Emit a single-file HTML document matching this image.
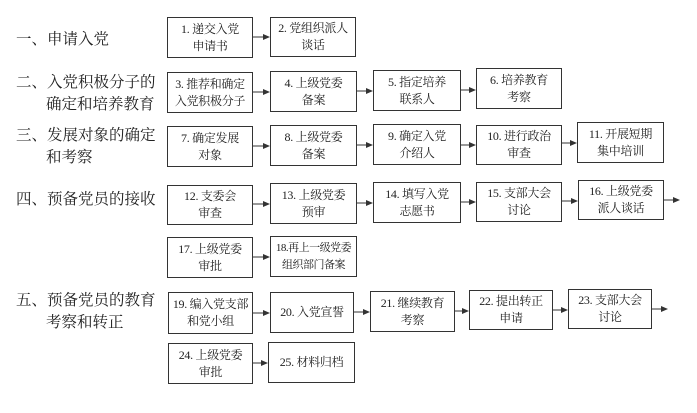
<!DOCTYPE html>
<html><head><meta charset="utf-8"><style>
body{margin:0;width:697px;height:413px;background:#fff;position:relative;overflow:hidden;font-family:"Liberation Serif","Noto Serif CJK SC","Noto Sans CJK SC",serif;color:#222}
.b{position:absolute;border:1.3px solid #333;box-sizing:border-box;font-size:12px;line-height:17px;letter-spacing:-0.3px;display:flex;flex-direction:column;justify-content:center;align-items:center;text-align:center;white-space:nowrap;background:#fff;overflow:hidden}
.l{position:absolute;font-size:15.5px;line-height:22px;white-space:nowrap}
svg{position:absolute;left:0;top:0}
</style></head><body>
<div class="l" style="left:16px;top:29px">一、申请入党</div>
<div class="l" style="left:16px;top:72px">二、入党积极分子的<br><span style="padding-left:30px">确定和培养教育</span></div>
<div class="l" style="left:16px;top:125px">三、发展对象的确定<br><span style="padding-left:30px">和考察</span></div>
<div class="l" style="left:16px;top:189px">四、预备党员的接收</div>
<div class="l" style="left:16px;top:290px">五、预备党员的教育<br><span style="padding-left:30px">考察和转正</span></div>

<div class="b" style="left:167px;top:17px;width:86px;height:41px">1. 递交入党<br>申请书</div>
<div class="b" style="left:270px;top:17px;width:86px;height:40px">2. 党组织派人<br>谈话</div>

<div class="b" style="left:167px;top:72px;width:86px;height:41px">3. 推荐和确定<br>入党积极分子</div>
<div class="b" style="left:270px;top:71px;width:87px;height:41px">4. 上级党委<br>备案</div>
<div class="b" style="left:373px;top:70px;width:88px;height:41px">5. 指定培养<br>联系人</div>
<div class="b" style="left:476px;top:68px;width:86px;height:41px">6. 培养教育<br>考察</div>

<div class="b" style="left:167px;top:126px;width:86px;height:41px">7. 确定发展<br>对象</div>
<div class="b" style="left:270px;top:125px;width:87px;height:41px">8. 上级党委<br>备案</div>
<div class="b" style="left:373px;top:124px;width:88px;height:41px">9. 确定入党<br>介绍人</div>
<div class="b" style="left:476px;top:125px;width:86px;height:40px">10. 进行政治<br>审查</div>
<div class="b" style="left:577px;top:122px;width:87px;height:41px">11. 开展短期<br>集中培训</div>

<div class="b" style="left:167px;top:185px;width:86px;height:40px">12. 支委会<br>审查</div>
<div class="b" style="left:270px;top:183px;width:87px;height:41px">13. 上级党委<br>预审</div>
<div class="b" style="left:373px;top:182px;width:88px;height:41px">14. 填写入党<br>志愿书</div>
<div class="b" style="left:476px;top:182px;width:86px;height:40px">15. 支部大会<br>讨论</div>
<div class="b" style="left:578px;top:180px;width:86px;height:40px">16. 上级党委<br>派人谈话</div>

<div class="b" style="left:167px;top:237px;width:86px;height:41px">17. 上级党委<br>审批</div>
<div class="b" style="left:270px;top:236px;width:87px;height:41px;font-size:11px;letter-spacing:-0.5px">18.再上一级党委<br>组织部门备案</div>

<div class="b" style="left:168px;top:292px;width:85px;height:42px">19. 编入党支部<br>和党小组</div>
<div class="b" style="left:270px;top:292px;width:84px;height:41px">20. 入党宣誓</div>
<div class="b" style="left:370px;top:291px;width:85px;height:41px">21. 继续教育<br>考察</div>
<div class="b" style="left:469px;top:290px;width:84px;height:40px">22. 提出转正<br>申请</div>
<div class="b" style="left:568px;top:289px;width:84px;height:40px">23. 支部大会<br>讨论</div>

<div class="b" style="left:168px;top:343px;width:85px;height:41px">24. 上级党委<br>审批</div>
<div class="b" style="left:268px;top:342px;width:87px;height:41px">25. 材料归档</div>

<svg width="697" height="413">
<defs><marker id="a" markerWidth="7" markerHeight="6" refX="6" refY="3" orient="auto" markerUnits="userSpaceOnUse"><path d="M0,0L7,3L0,6z" fill="#333"/></marker></defs>
<g stroke="#333" stroke-width="1" marker-end="url(#a)">
<line x1="253" y1="37" x2="269" y2="37"/>
<line x1="253" y1="92" x2="269" y2="92"/>
<line x1="357" y1="91" x2="372" y2="91"/>
<line x1="461" y1="90" x2="475" y2="90"/>
<line x1="253" y1="146" x2="269" y2="146"/>
<line x1="357" y1="145" x2="372" y2="145"/>
<line x1="461" y1="145" x2="475" y2="145"/>
<line x1="562" y1="143" x2="576" y2="143"/>
<line x1="253" y1="204" x2="269" y2="204"/>
<line x1="357" y1="203" x2="372" y2="203"/>
<line x1="461" y1="202" x2="475" y2="202"/>
<line x1="562" y1="201" x2="577" y2="201"/>
<line x1="664" y1="200" x2="679" y2="200"/>
<line x1="253" y1="257" x2="269" y2="257"/>
<line x1="253" y1="313" x2="269" y2="313"/>
<line x1="354" y1="312" x2="369" y2="312"/>
<line x1="455" y1="311" x2="468" y2="311"/>
<line x1="553" y1="310" x2="567" y2="310"/>
<line x1="652" y1="309" x2="667" y2="309"/>
<line x1="253" y1="363" x2="267" y2="363"/>
</g></svg>
</body></html>
